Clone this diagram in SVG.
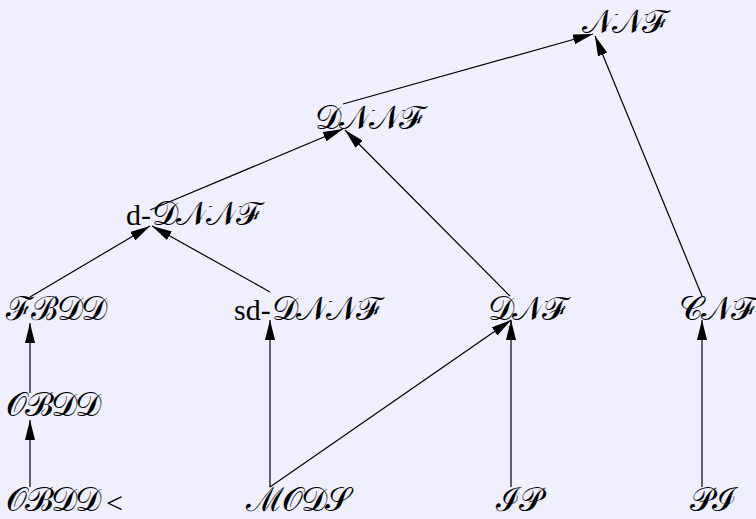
<svg xmlns="http://www.w3.org/2000/svg" width="756" height="519" viewBox="0 0 756 519">
<style>
.t{font-family:"DejaVu Serif",serif;font-size:33px;letter-spacing:-2px;fill:#000}
.r{font-size:30px;fill:#000}
.e{stroke:#000;stroke-width:1.2;fill:none;marker-end:url(#ah)}
</style>
<defs>
<marker id="ah" viewBox="0 0 20 10" refX="20" refY="5" markerWidth="20" markerHeight="10" markerUnits="userSpaceOnUse" orient="auto"><path d="M0,0 L20,5 L0,10 z" fill="#000"/></marker>
</defs>
<rect width="756" height="519" fill="#efeffe"/>
<g id="edges">
<line class="e" x1="343" y1="104" x2="593" y2="34"/>
<line class="e" x1="702" y1="296" x2="595" y2="36"/>
<line class="e" x1="150" y1="210" x2="343" y2="129"/>
<line class="e" x1="510" y1="296" x2="345" y2="130"/>
<line class="e" x1="30" y1="297" x2="150" y2="226"/>
<line class="e" x1="270" y1="292" x2="152" y2="226"/>
<line class="e" x1="30" y1="393" x2="30" y2="323"/>
<line class="e" x1="30" y1="487" x2="30" y2="420"/>
<line class="e" x1="270" y1="487" x2="270" y2="320"/>
<line class="e" x1="270" y1="487" x2="511" y2="320"/>
<line class="e" x1="511" y1="487" x2="511" y2="320"/>
<line class="e" x1="702" y1="487" x2="702" y2="320"/>
</g>
<g id="nnf"><text class="t" x="582" y="33">𝒩𝒩ℱ</text></g>
<g id="dnnf"><text class="t" x="315" y="129">𝒟𝒩𝒩ℱ</text></g>
<g id="d-dnnf"><text class="r" font-family="Liberation Serif, serif" x="126" y="225">d-</text><text class="t" x="152" y="225">𝒟𝒩𝒩ℱ</text></g>
<g id="fbdd"><text class="t" x="6" y="320">ℱℬ𝒟𝒟</text></g>
<g id="sd-dnnf"><text class="r" font-family="Liberation Serif, serif" x="234" y="320">sd-</text><text class="t" x="272" y="320">𝒟𝒩𝒩ℱ</text></g>
<g id="dnf"><text class="t" x="488" y="320">𝒟𝒩ℱ</text></g>
<g id="cnf"><text class="t" x="679" y="320">𝒞𝒩ℱ</text></g>
<g id="obdd"><text class="t" x="6" y="416">𝒪ℬ𝒟𝒟</text></g>
<g id="obdd-lt"><text class="t" x="6" y="511">𝒪ℬ𝒟𝒟</text><text class="r" font-family="Liberation Serif, serif" x="106" y="513" font-size="18">&lt;</text></g>
<g id="mods"><text class="t" x="246" y="511">ℳ𝒪𝒟𝒮</text></g>
<g id="ip"><text class="t" x="496" y="511">ℐ𝒫</text></g>
<g id="pi"><text class="t" x="690" y="511">𝒫ℐ</text></g>
</svg>
